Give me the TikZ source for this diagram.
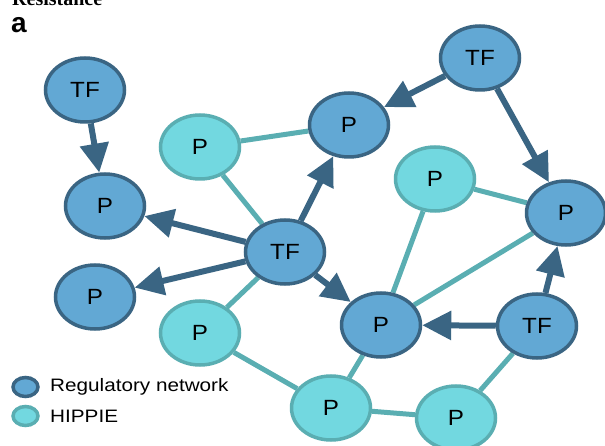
\documentclass[tikz,border=0pt]{standalone}
\usepackage{graphicx}
\usepackage{fontspec}
\setmainfont{Liberation Serif}
\setsansfont{Liberation Sans}
\usetikzlibrary{arrows.meta, shapes.geometric, backgrounds}
\definecolor{regfill}{HTML}{62A8D4}
\definecolor{regline}{HTML}{3A6583}
\definecolor{hipfill}{HTML}{72D8E0}
\definecolor{hipline}{HTML}{5AAEB2}
\newcommand{\widetext}[1]{\scalebox{1.1}[1]{#1}}
\newcommand{\legendtext}[1]{\scalebox{1.15}[1]{#1}}
\tikzset{
  netnode/.style={ellipse, line width=3.5pt, minimum width=79pt,
    minimum height=64pt, inner sep=0pt,
    font=\sffamily\fontsize{22}{22}\selectfont},
  regnode/.style={netnode, draw=regline, fill=regfill},
  hipnode/.style={netnode, draw=hipline, fill=hipfill},
  regarrow/.style={draw=regline, line width=6pt,
    -{Triangle[length=29pt, width=28pt]}},
  hipedge/.style={draw=hipline, line width=5pt},
  legreg/.style={ellipse, draw=regline, fill=regfill, line width=3.5pt,
    minimum width=25pt, minimum height=19pt, inner sep=0pt},
  leghip/.style={ellipse, draw=hipline, fill=hipfill, line width=3.5pt,
    minimum width=25pt, minimum height=19pt, inner sep=0pt},
  legtext/.style={anchor=west, inner sep=0pt, font=\sffamily\fontsize{18}{18}\selectfont}
}
\begin{document}
\begin{tikzpicture}[x=1pt, y=-1pt]
\useasboundingbox (0,0) rectangle (605,446);

% heading, partly cut by the page edge
\begin{scope}
  \clip (0,0) rectangle (605,446);
  \node[anchor=base west, inner sep=0pt, font=\bfseries\fontsize{20}{20}\selectfont] (head) at (12,6) {Resistance};
\end{scope}
\node[anchor=base west, inner sep=0pt, font=\sffamily\bfseries\fontsize{28}{28}\selectfont] (lab) at (11,33) {a};

% nodes
\node[regnode] (tfa) at (85,90) {\widetext{TF}};
\node[regnode] (pa) at (105,206) {\widetext{P}};
\node[regnode] (pb) at (95,297) {\widetext{P}};
\node[hipnode] (pc) at (200,147) {\widetext{P}};
\node[regnode] (pd) at (349,125) {\widetext{P}};
\node[regnode] (tfb) at (285,252) {\widetext{TF}};
\node[hipnode] (pe) at (200,333) {\widetext{P}};
\node[regnode] (tfc) at (480,58) {\widetext{TF}};
\node[hipnode] (pf) at (435,179) {\widetext{P}};
\node[regnode] (pg) at (566,213) {\widetext{P}};
\node[regnode] (ph) at (381,325) {\widetext{P}};
\node[regnode] (tfd) at (537,326) {\widetext{TF}};
\node[hipnode] (pi) at (331,408) {\widetext{P}};
\node[hipnode] (pj) at (456,418) {\widetext{P}};

% protein interaction edges (HIPPIE)
\begin{scope}[on background layer]
\draw[hipedge] (pc) -- (pd);
\draw[hipedge] (pc) -- (tfb);
\draw[hipedge] (tfb) -- (pe);
\draw[hipedge] (pe) -- (pi);
\draw[hipedge] (pi) -- (ph);
\draw[hipedge] (pi) -- (pj);
\draw[hipedge] (pj) -- (tfd);
\draw[hipedge] (pf) -- (ph);
\draw[hipedge] (pf) -- (pg);
\draw[hipedge] (pg) -- (ph);
\end{scope}

% regulatory edges
\draw[regarrow] (tfa) -- (pa);
\draw[regarrow] (tfb) -- (pa);
\draw[regarrow] (tfb) -- (pb);
\draw[regarrow] (tfb) -- (pd);
\draw[regarrow] (tfb) -- (ph);
\draw[regarrow] (tfc) -- (pd);
\draw[regarrow] (tfc) -- (pg);
\draw[regarrow] (tfd) -- (pg);
\draw[regarrow] (tfd) -- (ph);

% legend
\node[legreg] (lr) at (25.5,387) {};
\node[legtext] (lrt) at (50,387) {\legendtext{Regulatory network}};
\node[leghip] (lh) at (25.5,416) {};
\node[legtext] (lht) at (50,416) {\legendtext{HIPPIE}};
\end{tikzpicture}
\end{document}
